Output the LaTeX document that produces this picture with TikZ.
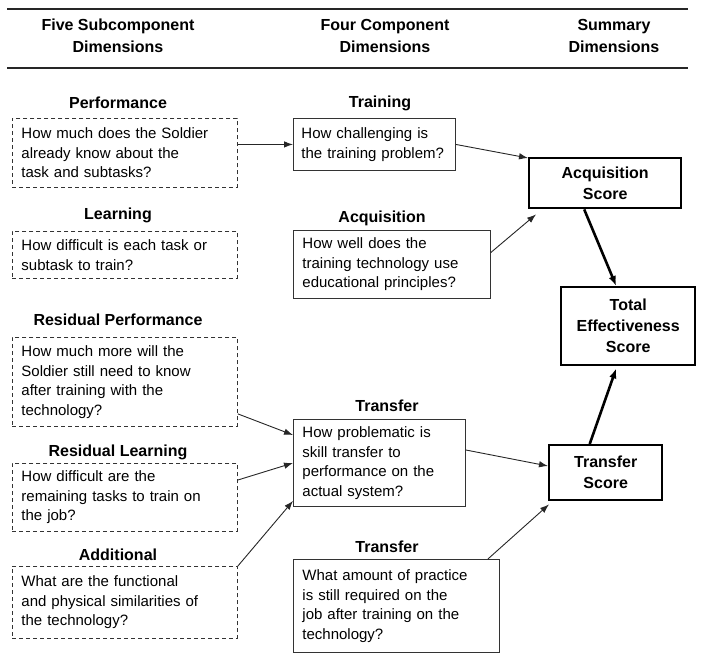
\documentclass[tikz,border=0pt]{standalone}
\usepackage{fontspec}
\setmainfont{Liberation Sans}
\usetikzlibrary{arrows.meta,calc}
\begin{document}
\begin{tikzpicture}[x=1pt,y=-1pt,
  qbox/.style={draw=black!80, line width=0.9pt, inner xsep=9pt, inner ysep=0pt,
    align=left, anchor=north west, font=\fontsize{15}{19.5}\selectfont},
  subbox/.style={qbox, dash pattern=on 4pt off 3pt},
  scorebox/.style={draw=black, line width=2.4pt, inner sep=0pt, align=center,
    anchor=north west, font=\bfseries\fontsize{16}{21}\selectfont},
  title/.style={font=\bfseries\fontsize{16}{20}\selectfont, inner sep=0pt},
  header/.style={font=\bfseries\fontsize{16}{22}\selectfont, align=center, inner sep=0pt},
  arr/.style={draw=black!85, line width=0.9pt, -{Latex[length=9pt,width=6.5pt]}},
  thickarr/.style={draw=black, line width=2.6pt, -{Latex[length=10pt,width=7.5pt]}},
]
\useasboundingbox (0,0) rectangle (701,671);

% column headings between two rules
\draw[line width=1.3pt, black!85] (7,9) -- (688,9);
\draw[line width=1.3pt, black!85] (7,68) -- (688,68);
\node[header] (h1) at (118,36) {Five Subcomponent\\Dimensions};
\node[header] (h2) at (385,36) {Four Component\\Dimensions};
\node[header] (h3) at (614,36) {Summary\\Dimensions};

% subcomponent dimensions
\node[title] (tperf) at (118,103) {Performance};
\node[subbox, text width=207pt, minimum height=69pt] (perf) at (12,118)
  {How much does the Soldier\\already know about the\\task and subtasks?};
\node[title] (tlearn) at (118,215) {Learning};
\node[subbox, text width=207pt, minimum height=47pt] (learn) at (12,231)
  {How difficult is each task or\\subtask to train?};
\node[title] (tresperf) at (118,320) {Residual Performance};
\node[subbox, text width=207pt, minimum height=89pt] (resperf) at (12,337)
  {How much more will the\\Soldier still need to know\\after training with the\\technology?};
\node[title] (treslearn) at (118,452) {Residual Learning};
\node[subbox, text width=207pt, minimum height=68pt] (reslearn) at (12,463)
  {How difficult are the\\remaining tasks to train on\\the job?};
\node[title] (taddl) at (118,555) {Additional};
\node[subbox, text width=207pt, minimum height=72pt] (addl) at (12,566)
  {What are the functional\\and physical similarities of\\the technology?};

% component dimensions
\node[title] (ttrain) at (380,103) {Training};
\node[qbox, inner xsep=8pt, text width=146pt, minimum height=52pt] (train) at (293,118)
  {How challenging is\\the training problem?};
\node[title] (tacq) at (382,218) {Acquisition};
\node[qbox, text width=179pt, minimum height=68pt] (acq) at (293,230)
  {How well does the\\training technology use\\educational principles?};
\node[title] (ttrans) at (387,406) {Transfer};
\node[qbox, text width=154pt, minimum height=87pt] (trans) at (293,419)
  {How problematic is\\skill transfer to\\performance on the\\actual system?};
\node[title] (tpract) at (387,547) {Transfer};
\node[qbox, text width=188pt, minimum height=93pt] (pract) at (293,559)
  {What amount of practice\\is still required on the\\job after training on the\\technology?};

% summary dimensions
\node[scorebox, minimum width=152pt, minimum height=50pt] (acqscore) at (528,157)
  {Acquisition\\Score};
\node[scorebox, minimum width=134pt, minimum height=78pt] (total) at (560,286)
  {Total\\Effectiveness\\Score};
\node[scorebox, minimum width=113pt, minimum height=55pt] (transscore) at (548,444)
  {Transfer\\Score};

% connectors
\draw[arr] (train.west -| perf.east) -- (train.west);
\draw[arr] (train.east) -- ([yshift=-1pt]acqscore.north west);
\draw[arr] ([yshift=12pt]acq.east) -- ([xshift=8pt,yshift=-5pt]acqscore.south west);
\draw[arr] ([yshift=13pt]resperf.south east) -- ([yshift=-16pt]trans.north west);
\draw[arr] ([yshift=-17pt]reslearn.north east) -- ([yshift=-44pt]trans.north west);
\draw[arr] (addl.north east) -- ([yshift=6pt]trans.south west);
\draw[arr] ([yshift=-31pt]trans.north east) -- ([yshift=-22pt]transscore.north west);
\draw[arr] ([xshift=-12pt]pract.north east) -- ([xshift=1pt,yshift=-3pt]transscore.south west);
\draw[thickarr] ([xshift=-21pt]acqscore.south) -- ([xshift=-12pt]total.north);
\draw[thickarr] ([xshift=-16pt]transscore.north) -- ([xshift=-12pt,yshift=-2pt]total.south);
\end{tikzpicture}
\end{document}
